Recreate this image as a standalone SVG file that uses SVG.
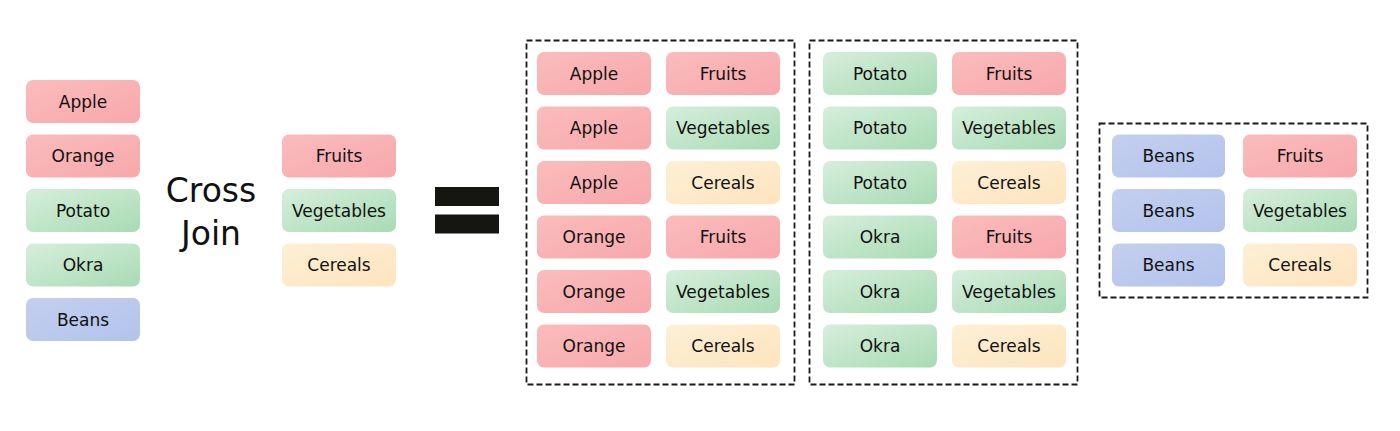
<svg xmlns="http://www.w3.org/2000/svg" width="1400" height="431" viewBox="0 0 1400 431">
<defs>
<linearGradient id="gp" x1="0" y1="0" x2="1" y2="1"><stop offset="0" stop-color="#fbbcbc"/><stop offset="1" stop-color="#f7a8ab"/></linearGradient>
<linearGradient id="gg" x1="0" y1="0" x2="1" y2="1"><stop offset="0" stop-color="#d6eedb"/><stop offset="1" stop-color="#a8dbb4"/></linearGradient>
<linearGradient id="gy" x1="0" y1="0" x2="1" y2="1"><stop offset="0" stop-color="#fdf0d6"/><stop offset="1" stop-color="#fde4bd"/></linearGradient>
<linearGradient id="gb" x1="0" y1="0" x2="1" y2="1"><stop offset="0" stop-color="#c4cfef"/><stop offset="1" stop-color="#b2c3eb"/></linearGradient>
<style>
.b{rx:7;ry:7}
.p{fill:url(#gp)}.g{fill:url(#gg)}.y{fill:url(#gy)}.u{fill:url(#gb)}
text{font-family:"DejaVu Sans","Liberation Sans",sans-serif;font-size:17px;fill:#111;text-anchor:middle;dominant-baseline:central}
.big{font-size:33px}
.frame{fill:none;stroke:#1a1a1a;stroke-width:1.8;stroke-dasharray:6 3}
</style>
</defs>
<rect width="1400" height="431" fill="#fff"/>

<g id="left">
<g id="l-apple"><rect class="b p" x="26" y="80" width="114" height="43"/><text x="83" y="101.5">Apple</text></g>
<g id="l-orange"><rect class="b p" x="26" y="134.5" width="114" height="43"/><text x="83" y="156">Orange</text></g>
<g id="l-potato"><rect class="b g" x="26" y="189" width="114" height="43"/><text x="83" y="210.5">Potato</text></g>
<g id="l-okra"><rect class="b g" x="26" y="243.5" width="114" height="43"/><text x="83" y="265">Okra</text></g>
<g id="l-beans"><rect class="b u" x="26" y="298" width="114" height="43"/><text x="83" y="319.5">Beans</text></g>
</g>

<g id="crossjoin"><text class="big" x="211" y="190">Cross</text><text class="big" x="211" y="233">Join</text></g>

<g id="mid">
<g id="m-fruits"><rect class="b p" x="282" y="134.5" width="114" height="43"/><text x="339" y="156">Fruits</text></g>
<g id="m-veg"><rect class="b g" x="282" y="189" width="114" height="43"/><text x="339" y="210.5">Vegetables</text></g>
<g id="m-cer"><rect class="b y" x="282" y="243.5" width="114" height="43"/><text x="339" y="265">Cereals</text></g>
</g>

<g id="equals"><rect x="435" y="187" width="64" height="19" fill="#151512"/><rect x="435" y="214.5" width="64" height="19" fill="#151512"/></g>

<g id="result1">
<rect class="frame" x="526.5" y="40.5" width="268" height="344"/>
<g><rect class="b p" x="537" y="52" width="114" height="43"/><text x="594" y="73.5">Apple</text></g>
<g><rect class="b p" x="666" y="52" width="114" height="43"/><text x="723" y="73.5">Fruits</text></g>
<g><rect class="b p" x="537" y="106.5" width="114" height="43"/><text x="594" y="128">Apple</text></g>
<g><rect class="b g" x="666" y="106.5" width="114" height="43"/><text x="723" y="128">Vegetables</text></g>
<g><rect class="b p" x="537" y="161" width="114" height="43"/><text x="594" y="182.5">Apple</text></g>
<g><rect class="b y" x="666" y="161" width="114" height="43"/><text x="723" y="182.5">Cereals</text></g>
<g><rect class="b p" x="537" y="215.5" width="114" height="43"/><text x="594" y="237">Orange</text></g>
<g><rect class="b p" x="666" y="215.5" width="114" height="43"/><text x="723" y="237">Fruits</text></g>
<g><rect class="b p" x="537" y="270" width="114" height="43"/><text x="594" y="291.5">Orange</text></g>
<g><rect class="b g" x="666" y="270" width="114" height="43"/><text x="723" y="291.5">Vegetables</text></g>
<g><rect class="b p" x="537" y="324.5" width="114" height="43"/><text x="594" y="346">Orange</text></g>
<g><rect class="b y" x="666" y="324.5" width="114" height="43"/><text x="723" y="346">Cereals</text></g>
</g>

<g id="result2">
<rect class="frame" x="809.5" y="40.5" width="268" height="344"/>
<g><rect class="b g" x="823" y="52" width="114" height="43"/><text x="880" y="73.5">Potato</text></g>
<g><rect class="b p" x="952" y="52" width="114" height="43"/><text x="1009" y="73.5">Fruits</text></g>
<g><rect class="b g" x="823" y="106.5" width="114" height="43"/><text x="880" y="128">Potato</text></g>
<g><rect class="b g" x="952" y="106.5" width="114" height="43"/><text x="1009" y="128">Vegetables</text></g>
<g><rect class="b g" x="823" y="161" width="114" height="43"/><text x="880" y="182.5">Potato</text></g>
<g><rect class="b y" x="952" y="161" width="114" height="43"/><text x="1009" y="182.5">Cereals</text></g>
<g><rect class="b g" x="823" y="215.5" width="114" height="43"/><text x="880" y="237">Okra</text></g>
<g><rect class="b p" x="952" y="215.5" width="114" height="43"/><text x="1009" y="237">Fruits</text></g>
<g><rect class="b g" x="823" y="270" width="114" height="43"/><text x="880" y="291.5">Okra</text></g>
<g><rect class="b g" x="952" y="270" width="114" height="43"/><text x="1009" y="291.5">Vegetables</text></g>
<g><rect class="b g" x="823" y="324.5" width="114" height="43"/><text x="880" y="346">Okra</text></g>
<g><rect class="b y" x="952" y="324.5" width="114" height="43"/><text x="1009" y="346">Cereals</text></g>
</g>

<g id="result3">
<rect class="frame" x="1099.5" y="123.5" width="268" height="174"/>
<g><rect class="b u" x="1112" y="134.5" width="113" height="43"/><text x="1168.5" y="156">Beans</text></g>
<g><rect class="b p" x="1243" y="134.5" width="114" height="43"/><text x="1300" y="156">Fruits</text></g>
<g><rect class="b u" x="1112" y="189" width="113" height="43"/><text x="1168.5" y="210.5">Beans</text></g>
<g><rect class="b g" x="1243" y="189" width="114" height="43"/><text x="1300" y="210.5">Vegetables</text></g>
<g><rect class="b u" x="1112" y="243.5" width="113" height="43"/><text x="1168.5" y="265">Beans</text></g>
<g><rect class="b y" x="1243" y="243.5" width="114" height="43"/><text x="1300" y="265">Cereals</text></g>
</g>

<g id="connectors"/>
</svg>
